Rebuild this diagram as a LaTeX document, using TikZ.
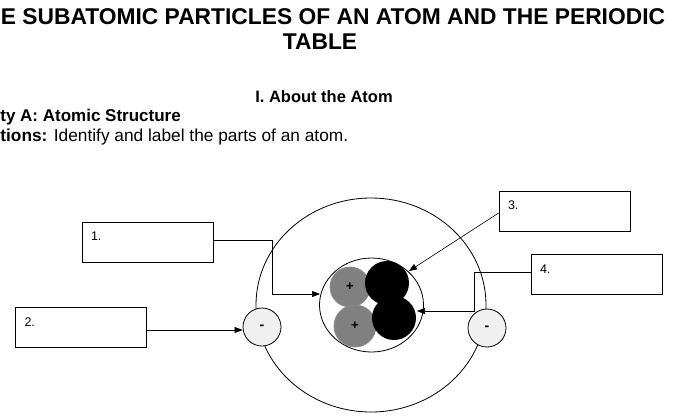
\documentclass[tikz,border=0pt]{standalone}
\usepackage{fontspec}
\setmainfont{Liberation Sans}
\usepackage{tikz}
\usetikzlibrary{positioning}
\usetikzlibrary{arrows.meta}

\tikzset{
  labelbox/.style={draw, minimum width=131pt, minimum height=40pt, inner sep=0pt},
  boxnum/.style={font=\fontsize{12.5}{14}\selectfont, inner sep=0pt},
  electron/.style={draw, circle, fill=black!6, minimum size=38pt, inner sep=0pt, font=\bfseries\fontsize{14}{16}\selectfont},
  proton/.style={draw=black!45, circle, fill=black!50, inner sep=0pt, font=\bfseries\fontsize{13}{15}\selectfont},
  pointer/.style={-{Triangle[length=8pt,width=6pt]}, line width=0.6pt}
}

\begin{document}
\begin{tikzpicture}[x=1pt, y=-1pt, line width=0.8pt]
  \useasboundingbox (0,0) rectangle (682,418);

  % heading
  \node[font=\bfseries\fontsize{22.8}{26}\selectfont] (title) at (333,17) {E SUBATOMIC PARTICLES OF AN ATOM AND THE PERIODIC};
  \node[font=\bfseries\fontsize{22.8}{26}\selectfont] (title2) at (320,42) {TABLE};
  \node[font=\bfseries\fontsize{16.5}{19}\selectfont] (part) at (324,97) {I. About the Atom};
  \node[font=\bfseries\fontsize{17}{19}\selectfont, anchor=west, inner sep=0pt] (act) at (0,117) {ty A: Atomic Structure};
  \node[font=\fontsize{17.3}{19}\selectfont, anchor=west, inner sep=0pt] (dir) at (0,137) {\textbf{tions:} Identify and label the parts of an atom.};

  % atom
  \draw (371,305) ellipse (115pt and 107pt);
  \draw[fill=white] (371.5,305) ellipse (52pt and 47pt);
  \node[proton, minimum size=40pt] (p1) at (350,287) {+};
  \node[proton, minimum size=42pt] (p2) at (355,326) {+};
  \node[circle, fill=black, minimum size=44pt, inner sep=0pt] (n1) at (387,283) {};
  \node[circle, fill=black, minimum size=44pt, inner sep=0pt] (n2) at (394,318) {};
  \coordinate (nucleusL) at (320,294);
  \coordinate (nucleusT) at (409,271);
  \coordinate (nucleusR) at (417,311);
  \node[electron] (e1) at (262,327) {-};
  \node[electron] (e2) at (487,328) {-};

  % label boxes
  \node[labelbox] (b1) at (147.5,242) {};
  \node[labelbox] (b2) at (81,327.5) {};
  \node[labelbox] (b3) at (564.5,211) {};
  \node[labelbox] (b4) at (596.5,274.5) {};
  \node[boxnum, anchor=north west] at ([xshift=9pt,yshift=-10pt]b1.north west) {1.};
  \node[boxnum, anchor=north west] at ([xshift=9pt,yshift=-10pt]b2.north west) {2.};
  \node[boxnum, anchor=north west] at ([xshift=9pt,yshift=-10pt]b3.north west) {3.};
  \node[boxnum, anchor=north west] at ([xshift=9pt,yshift=-10pt]b4.north west) {4.};

  % pointers
  \draw[pointer] (b1.east |- 0,240) -- (272,240) -- (272,294) -- (nucleusL);
  \draw[pointer] (b2.east |- 0,330) -- (e1.west |- 0,330);
  \draw[pointer] (b3.west |- 0,213) -- (nucleusT);
  \draw[pointer] (b4.west |- 0,272) -- (474,272) -- (474,311) -- (nucleusR);
\end{tikzpicture}
\end{document}
